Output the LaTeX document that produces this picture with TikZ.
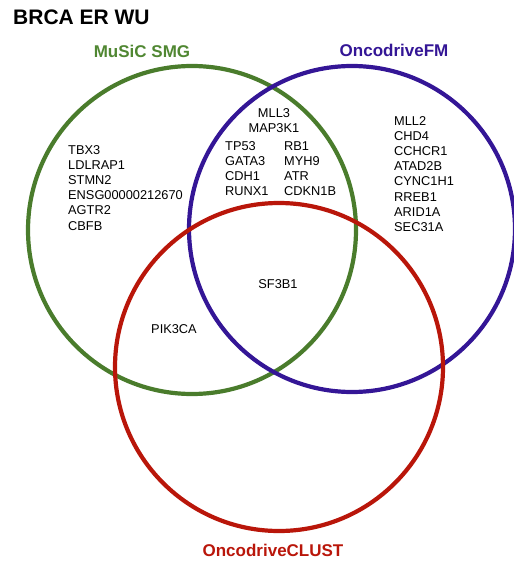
\documentclass[tikz,border=0pt]{standalone}
\usepackage{fontspec}
\setmainfont{Liberation Sans}
\definecolor{cgreen}{RGB}{74,124,44}
\definecolor{cgreentext}{RGB}{80,135,50}
\definecolor{cblue}{RGB}{52,22,150}
\definecolor{cred}{RGB}{185,22,10}
\tikzset{
  vring/.style={line width=4.2pt},
  gene/.style={font=\fontsize{12.8}{15.2}\selectfont, inner sep=0pt, align=left},
  setlabel/.style={font=\fontsize{17}{20}\selectfont\bfseries, inner sep=0pt},
}
\begin{document}
\begin{tikzpicture}[x=1pt,y=-1pt]
\useasboundingbox (0,0) rectangle (513,561);
\node[font=\fontsize{21}{24}\selectfont\bfseries, anchor=west, inner sep=0pt] (title) at (13,17) {BRCA ER WU};
\draw[vring, cgreen] (192,230) circle (164);
\draw[vring, cblue] (352,229) circle (163);
\draw[vring, cred] (279,367) circle (164);
\node[setlabel, text=cgreentext] (lg) at (142,51) {MuSiC SMG};
\node[setlabel, text=cblue] (lb) at (394,50) {OncodriveFM};
\node[setlabel, text=cred] (lr) at (273,550) {OncodriveCLUST};
\node[gene, anchor=north west] (g1) at (68,145) {TBX3\\LDLRAP1\\STMN2\\ENSG00000212670\\AGTR2\\CBFB};
\node[gene, align=center, anchor=north] (g2) at (274,108) {MLL3\\MAP3K1};
\node[gene, anchor=north west] (g3) at (225,141) {TP53\\GATA3\\CDH1\\RUNX1};
\node[gene, anchor=north west] (g4) at (284,141) {RB1\\MYH9\\ATR\\CDKN1B};
\node[gene, anchor=north west] (g5) at (394,116) {MLL2\\CHD4\\CCHCR1\\ATAD2B\\CYNC1H1\\RREB1\\ARID1A\\SEC31A};
\node[gene] (g6) at (278,284) {SF3B1};
\node[gene] (g7) at (174,329) {PIK3CA};
\end{tikzpicture}
\end{document}
